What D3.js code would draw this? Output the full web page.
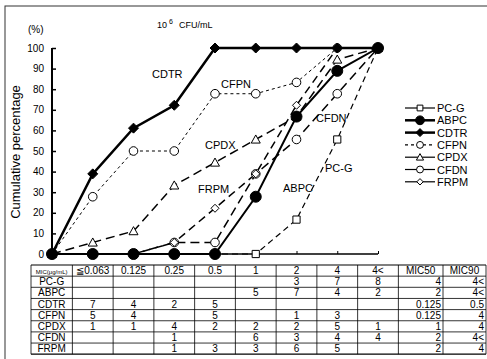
<!DOCTYPE html>
<html>
<head>
<meta charset="utf-8">
<script src="https://cdn.jsdelivr.net/npm/d3@7"></script>
<style>
  body { margin: 0; background: #fff; }
  svg { display: block; font-family: 'Liberation Sans', Arial, sans-serif; }
</style>
</head>
<body>
<svg id="chart" width="487" height="359"></svg>
<script>
// x categories (first one is the origin)
const categories = ['0', '≦0.063', '0.125', '0.25', '0.5', '1', '2', '4', '4<'];
const yTicks = [0, 10, 20, 30, 40, 50, 60, 70, 80, 90, 100];

// cumulative percentage per series
const pcg  = [0, 0, 0, 0, 0, 0, 16.7, 55.6, 100];
const abpc = [0, 0, 0, 0, 0, 27.8, 66.7, 88.9, 100];
const cdtr = [0, 38.9, 61.1, 72.2, 100, 100, 100, 100, 100];
const cfpn = [0, 27.8, 50, 50, 77.8, 77.8, 83.3, 100, 100];
const cpdx = [0, 5.6, 11.1, 33.3, 44.4, 55.6, 66.7, 94.4, 100];
const cfdn = [0, 0, 0, 5.6, 5.6, 38.9, 55.6, 77.8, 100];
const frpm = [0, 0, 0, 5.6, 22.2, 38.9, 72.2, 100, 100];

// table
const tableHeader = ['MIC(μg/mL)', '≦0.063', '0.125', '0.25', '0.5', '1', '2', '4', '4<', 'MIC50', 'MIC90'];
const drugs = ['PC-G', 'ABPC', 'CDTR', 'CFPN', 'CPDX', 'CFDN', 'FRPM'];
const counts = [
  ['', '', '', '', '', '3', '7', '8'],
  ['', '', '', '', '5', '7', '4', '2'],
  ['7', '4', '2', '5', '', '', '', ''],
  ['5', '4', '', '5', '', '1', '3', ''],
  ['1', '1', '4', '2', '2', '2', '5', '1'],
  ['', '', '1', '', '6', '3', '4', '4'],
  ['', '', '1', '3', '3', '6', '5', '']
];
const mic50 = ['4', '2', '0.125', '0.125', '1', '2', '2'];
const mic90 = ['4<', '4<', '0.5', '4', '4', '4<', '4'];

const series = [
  { name: 'CFPN', values: cfpn, width: 1, dash: '3,3', marker: 'circle', r: 4.3, fill: '#fff' },
  { name: 'CPDX', values: cpdx, width: 1.5, dash: '9,5', marker: 'triangle', r: 4.5, fill: '#fff' },
  { name: 'CFDN', values: cfdn, width: 1.5, dash: '9,5', marker: 'circle', r: 4.3, fill: '#fff' },
  { name: 'FRPM', values: frpm, width: 1.5, dash: '8,5', marker: 'diamond', r: 4, fill: '#fff' },
  { name: 'PC-G', values: pcg, width: 1.2, dash: '6,4', marker: 'square', r: 3.6, fill: '#fff' },
  { name: 'ABPC', values: abpc, width: 2, dash: null, marker: 'circle', r: 5.5, fill: '#000' },
  { name: 'CDTR', values: cdtr, width: 2.5, dash: null, marker: 'diamond', r: 5, fill: '#000' }
];
const legendOrder = ['PC-G', 'ABPC', 'CDTR', 'CFPN', 'CPDX', 'CFDN', 'FRPM'];

const svg = d3.select('#chart');
const x = d3.scalePoint().domain(categories).range([52, 378]);
const y = d3.scaleLinear().domain([0, 100]).range([254, 48]);
const step = x.step();

// outer frame
svg.append('rect').attr('x', 5).attr('y', 6).attr('width', 500).attr('height', 380)
  .attr('fill', 'none').attr('stroke', '#333').attr('stroke-width', 1);

function markerPath(type, r) {
  if (type === 'square') return `M${-r},${-r}H${r}V${r}H${-r}Z`;
  if (type === 'diamond') return `M0,${-r}L${r},0L0,${r}L${-r},0Z`;
  if (type === 'triangle') return `M0,${-r}L${r},${r * 0.8}L${-r},${r * 0.8}Z`;
  return d3.arc()({ innerRadius: 0, outerRadius: r, startAngle: 0, endAngle: 2 * Math.PI });
}

// axes
const yAxis = svg.append('g').attr('transform', 'translate(52,0)')
  .call(d3.axisRight(y).tickValues(yTicks).tickSize(4).tickFormat(''));
yAxis.select('.domain').attr('stroke-width', 2).attr('d', `M0,${y(0)}V${y(100)}`);
yAxis.selectAll('line').attr('stroke-width', 1.5);
svg.append('g').selectAll('text').data(yTicks).join('text')
  .attr('x', 44).attr('y', d => y(d) + 3.5).attr('text-anchor', 'end')
  .attr('font-size', 10).text(d => d);

const xAxis = svg.append('g').attr('transform', `translate(0,${y(0)})`)
  .call(d3.axisTop(x).tickSize(3).tickFormat(''));
xAxis.select('.domain').attr('stroke-width', 1.5).attr('d', `M52,0H378`);

// lines
const line = d3.line().x((d, i) => x(categories[i])).y(d => y(d));
series.forEach(s => {
  svg.append('path').datum(s.values).attr('d', line)
    .attr('fill', 'none').attr('stroke', '#000').attr('stroke-width', s.width)
    .attr('stroke-dasharray', s.dash);
});
series.forEach(s => {
  svg.append('g').selectAll('path').data(s.values).join('path')
    .attr('transform', (d, i) => `translate(${x(categories[i])},${y(d)})`)
    .attr('d', markerPath(s.marker, s.r))
    .attr('fill', s.fill).attr('stroke', '#000').attr('stroke-width', 1);
});

// labels inside plot
const labels = [['CDTR', 152, 78], ['CFPN', 221, 88], ['CPDX', 205, 149], ['FRPM', 198, 193],
  ['CFDN', 316, 122], ['ABPC', 283, 192], ['PC-G', 325, 172]];
svg.append('g').selectAll('text').data(labels).join('text')
  .attr('x', d => d[1]).attr('y', d => d[2]).attr('font-size', 11).text(d => d[0]);

// titles
svg.append('text').attr('x', 28).attr('y', 33).attr('font-size', 10).text('(%)');
const t = svg.append('text').attr('x', 157).attr('y', 28).attr('font-size', 9);
t.append('tspan').text('10');
t.append('tspan').attr('dy', -4).attr('font-size', 7).attr('dx', 2).text('6');
t.append('tspan').attr('dy', 4).attr('dx', 6).text('CFU/mL');
svg.append('text').attr('transform', 'translate(20,152) rotate(-90)')
  .attr('text-anchor', 'middle').attr('font-size', 13).text('Cumulative percentage');

// legend
const leg = svg.append('g');
legendOrder.forEach((name, i) => {
  const s = series.find(d => d.name === name);
  const ly = 108 + i * 12.3;
  leg.append('line').attr('x1', 405).attr('x2', 435).attr('y1', ly).attr('y2', ly)
    .attr('stroke', '#000').attr('stroke-width', name === 'ABPC' || name === 'CDTR' ? 2.5 : 1.2)
    .attr('stroke-dasharray', name === 'CFPN' ? '3,3' : null);
  leg.append('path').attr('transform', `translate(420,${ly})`)
    .attr('d', markerPath(s.marker, s.r * 0.8)).attr('fill', s.fill).attr('stroke', '#000');
  leg.append('text').attr('x', 437).attr('y', ly + 4).attr('font-size', 11).text(name);
});

// table
const tTop = 265, rowH = 11.15;
const colEdges = [31, x('≦0.063') - step / 2];
categories.slice(1).forEach(c => colEdges.push(x(c) + step / 2));
colEdges.push(443, 486);
const tBottom = tTop + rowH * 8;
const tg = svg.append('g').attr('stroke', '#000').attr('stroke-width', 0.8);
colEdges.forEach(cx => tg.append('line').attr('x1', cx).attr('x2', cx).attr('y1', tTop).attr('y2', tBottom));
d3.range(9).forEach(i => tg.append('line').attr('x1', 31).attr('x2', 486)
  .attr('y1', tTop + i * rowH).attr('y2', tTop + i * rowH).attr('stroke-width', i === 0 || i === 8 ? 1.2 : 0.8));

const rows = [tableHeader].concat(drugs.map((d, i) => [d].concat(counts[i], [mic50[i], mic90[i]])));
rows.forEach((row, ri) => {
  row.forEach((v, ci) => {
    if (!v) return;
    const l = colEdges[ci], r = colEdges[ci + 1];
    const right = ci >= 9 && ri > 0;
    svg.append('text')
      .attr('x', right ? r - 2 : (l + r) / 2)
      .attr('y', tTop + ri * rowH + rowH / 2 + 3.5)
      .attr('text-anchor', right ? 'end' : 'middle')
      .attr('font-size', ri === 0 && ci === 0 ? 6 : 10)
      .text(v);
  });
});
</script>
</body>
</html>
